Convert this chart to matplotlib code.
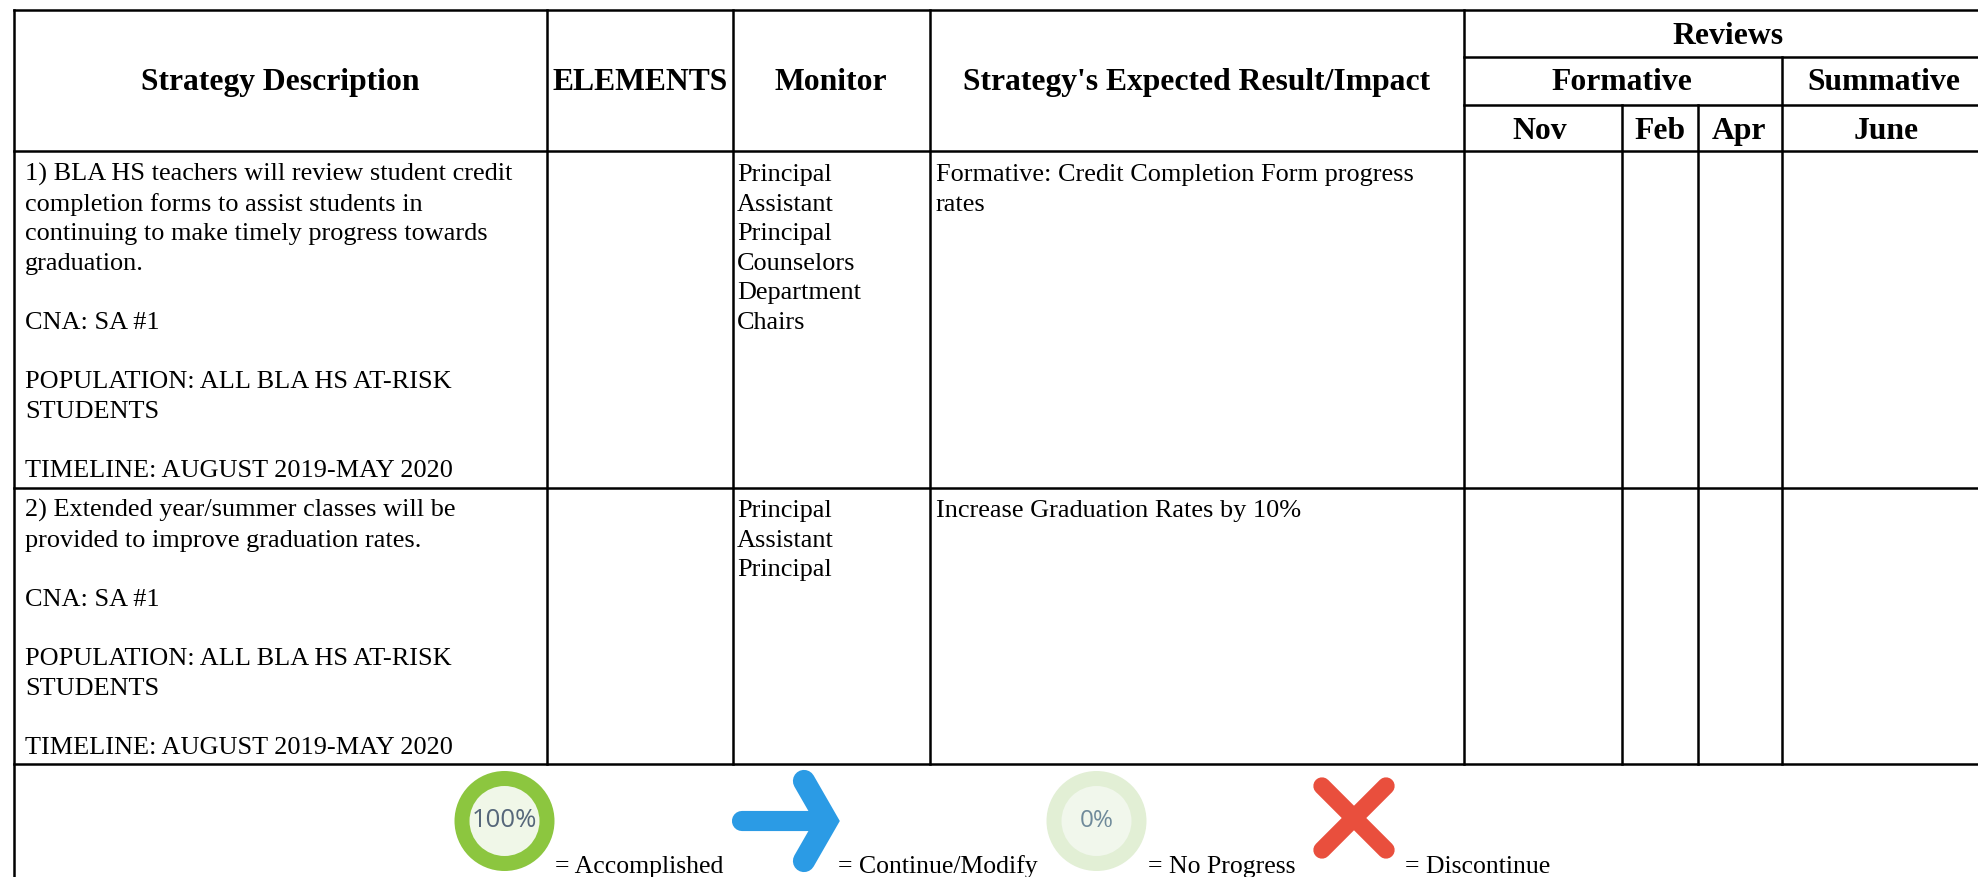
import matplotlib
matplotlib.use("Agg")
import matplotlib.pyplot as plt
from matplotlib.patches import Circle

W, H = 1978, 878

strategy_rows = [
    ["1) BLA HS teachers will review student credit",
     "completion forms to assist students in",
     "continuing to make timely progress towards",
     "graduation.",
     "",
     "CNA: SA #1",
     "",
     "POPULATION: ALL BLA HS AT-RISK",
     "STUDENTS",
     "",
     "TIMELINE: AUGUST 2019-MAY 2020"],
    ["2) Extended year/summer classes will be",
     "provided to improve graduation rates.",
     "",
     "CNA: SA #1",
     "",
     "POPULATION: ALL BLA HS AT-RISK",
     "STUDENTS",
     "",
     "TIMELINE: AUGUST 2019-MAY 2020"],
]
monitor_rows = [
    ["Principal", "Assistant", "Principal", "Counselors", "Department", "Chairs"],
    ["Principal", "Assistant", "Principal"],
]
impact_rows = [
    ["Formative: Credit Completion Form progress", "rates"],
    ["Increase Graduation Rates by 10%"],
]
legend_labels = ["= Accomplished", "= Continue/Modify", "= No Progress", "= Discontinue"]
ring_labels = ["100%", "0%"]

SERIF = "Liberation Serif"
BODY_PT = 18.9
HEAD_PT = 22.8
LINE_H = 29.6
LW = 1.8

fig = plt.figure(figsize=(W / 100, H / 100), dpi=100)
ax = fig.add_axes([0, 0, 1, 1])
ax.set_xlim(0, W)
ax.set_ylim(H, 0)
ax.axis("off")


def vline(x, y0, y1):
    ax.plot([x, x], [y0, y1], color="black", lw=LW, solid_capstyle="projecting")


def hline(y, x0, x1):
    ax.plot([x0, x1], [y, y], color="black", lw=LW, solid_capstyle="projecting")


# table grid
LEFT = 14
hline(10.5, LEFT, W)
hline(57.5, 1463.5, W)
hline(105.5, 1463.5, W)
hline(152.3, LEFT, W)
hline(488.5, LEFT, W)
hline(765, LEFT, W)
vline(LEFT, 10.5, H)
for x in [547, 733, 930, 1463.5]:
    vline(x, 10.5, 765)
vline(1782, 57.5, 765)
for x in [1622, 1698]:
    vline(x, 105.5, 765)


def head(x, y, s):
    ax.text(x, y, s, family=SERIF, weight="bold", size=HEAD_PT, ha="center", va="baseline")


head(280, 90, "Strategy Description")
head(640, 90, "ELEMENTS")
head(831, 90, "Monitor")
head(1197, 90, "Strategy's Expected Result/Impact")
head(1728, 43.5, "Reviews")
head(1622, 90.5, "Formative")
head(1884, 90.5, "Summative")
head(1540, 139, "Nov")
head(1660, 139, "Feb")
head(1739, 139, "Apr")
head(1886, 139, "June")

# body cells
row_base = [181, 517]
for base, strat, mon, imp in zip(row_base, strategy_rows, monitor_rows, impact_rows):
    for x, lines in [(25, strat), (737, mon), (936, imp)]:
        for i, s in enumerate(lines):
            ax.text(x, base + i * LINE_H, s, family=SERIF, size=BODY_PT, ha="left", va="baseline")

# legend icons
ax.add_patch(Circle((504.5, 822), 50, fc="#8cc63f", ec="none"))
ax.add_patch(Circle((504.5, 822), 35, fc="#f0f7e8", ec="none"))
ax.add_patch(Circle((1096.5, 822), 50, fc="#e2efd5", ec="none"))
ax.add_patch(Circle((1096.5, 822), 35, fc="#f1f7ec", ec="none"))
ax.text(504.5, 821, ring_labels[0], family="Open Sans", size=18.5, color="#56677a", ha="center", va="center")
ax.text(1096.5, 821, ring_labels[1], family="Open Sans", size=17.5, color="#6f8a9a", ha="center", va="center")

BLUE = "#2b9be5"
ax.plot([742, 826], [822, 822], color=BLUE, lw=14.5, solid_capstyle="round")
ax.plot([804, 827, 804], [782, 822, 862], color=BLUE, lw=16, solid_capstyle="round", solid_joinstyle="miter")

RED = "#e94f3d"
ax.plot([1322, 1386], [787, 851], color=RED, lw=12.5, solid_capstyle="round")
ax.plot([1322, 1386], [851, 787], color=RED, lw=12.5, solid_capstyle="round")

for x, s in zip([555, 838, 1148, 1405], legend_labels):
    ax.text(x, 873, s, family=SERIF, size=BODY_PT * 0.98, ha="left", va="baseline")

fig.savefig("out.png", dpi=100)
